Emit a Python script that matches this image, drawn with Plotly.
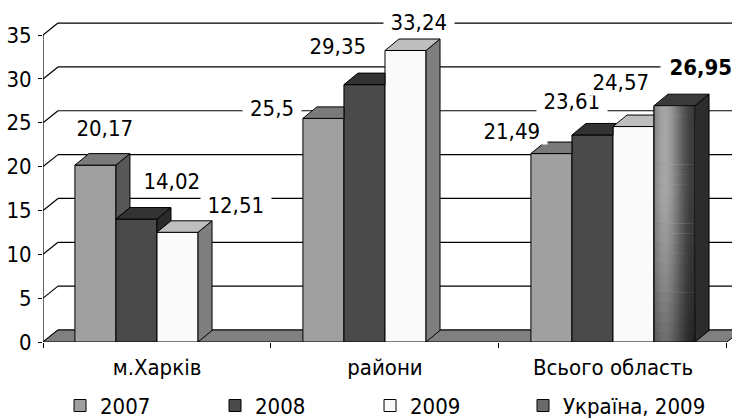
import plotly.graph_objects as go

# ---- data -------------------------------------------------------------
categories = ["м.Харків", "райони", "Всього область"]
series_names = ["2007", "2008", "2009", "Україна, 2009"]
values_2007 = [20.17, 25.5, 21.49]
values_2008 = [14.02, 29.35, 23.61]
values_2009 = [12.51, 33.24, 24.57]
values_ukraine = [None, None, 26.95]
y_ticks = [0, 5, 10, 15, 20, 25, 30, 35]

series_values = [values_2007, values_2008, values_2009, values_ukraine]

# ---- styling ------------------------------------------------------------
front_colors = ["#a0a0a0", "#4a4a4a", "#fafafa", "#6a6a6a"]
top_colors = ["#7a7a7a", "#333333", "#bebebe", "#3a3a3a"]
side_colors = ["#575757", "#2b2b2b", "#7e7e7e", "#2c2c2c"]
FLOOR_COLOR = "#808080"
FONT = "DejaVu Sans Condensed, DejaVu Sans, sans-serif"
FONT_SIZE = 22

# label placement relative to the front-top of each bar (pixels)
label_shifts = [
    [(10, 37), (36, 38), (58, 27)],
    [(-51, 10), (-26, 38), (13, 28)],
    [(-39, 22), (-20, 33), (-13, 44), (26, 38)],
]

# ---- geometry of the pseudo-3D projection --------------------------------
W, H = 732, 420
M_L, M_R, M_T, M_B = 43, 0, 0, 78
X_RANGE = [-0.5, 2.522]
Y_RANGE = [0, 39]
px_per_x = (W - M_L - M_R) / (X_RANGE[1] - X_RANGE[0])
px_per_y = (H - M_T - M_B) / (Y_RANGE[1] - Y_RANGE[0])

BAR_DX = 14 / px_per_x      # bar depth, horizontal part
BAR_DY = 11.5 / px_per_y    # bar depth, vertical part
WALL_DX = 15 / px_per_x     # wall depth
WALL_DY = 12 / px_per_y

BARGAP = 0.28
n_series = len(series_values)
slot = (1 - BARGAP) / n_series
x_pos = list(range(len(categories)))

fig = go.Figure()

# front faces
for k, (name, vals) in enumerate(zip(series_names, series_values)):
    fig.add_trace(go.Bar(
        x=x_pos, y=vals, name=name,
        legend="legend2" if k == 3 else "legend",
        marker=dict(color=front_colors[k], line=dict(color="black", width=1)),
        hoverinfo="skip",
    ))

# side and top faces, trimmed where the neighbouring bar hides them
for g in range(len(categories)):
    for k in range(n_series):
        v = series_values[k][g]
        if v is None:
            continue
        x1 = g - (1 - BARGAP) / 2 + k * slot
        x2 = x1 + slot
        nxt = series_values[k + 1][g] if k + 1 < n_series else None

        # side face
        if nxt is None or nxt < v:
            b = 0 if nxt is None else nxt
            fig.add_trace(go.Scatter(
                x=[x2, x2, x2 + BAR_DX, x2 + BAR_DX, x2],
                y=[b, v, v + BAR_DY, b + BAR_DY, b],
                mode="lines", fill="toself", fillcolor=side_colors[k],
                line=dict(color="black", width=1),
                showlegend=False, hoverinfo="skip",
            ))

        # top face
        t = v if nxt is None else min(max(nxt, v), v + BAR_DY)
        xt = x2 + BAR_DX * (v + BAR_DY - t) / BAR_DY
        fig.add_trace(go.Scatter(
            x=[x1, x2, x2, xt, x1 + BAR_DX, x1],
            y=[v, v, t, v + BAR_DY, v + BAR_DY, v],
            mode="lines", fill="toself", fillcolor=top_colors[k],
            line=dict(color="black", width=1),
            showlegend=False, hoverinfo="skip",
        ))

shapes = []

# back wall grid with the left-wall diagonals
for v in y_ticks:
    shapes.append(dict(type="line", xref="x", yref="y", layer="below",
                       x0=-0.5, y0=v, x1=-0.5 + WALL_DX, y1=v + WALL_DY,
                       line=dict(color="black", width=1.2)))
    shapes.append(dict(type="line", xref="x", yref="y", layer="below",
                       x0=-0.5 + WALL_DX, y0=v + WALL_DY, x1=2.7, y1=v + WALL_DY,
                       line=dict(color="black", width=1.2)))

# floor
fx0, fx1 = -0.5, 2.5
shapes.append(dict(
    type="path", xref="x", yref="y", layer="below",
    path=(f"M{fx0},0 L{fx1},0 L{fx1 + WALL_DX},{WALL_DY} "
          f"L{fx0 + WALL_DX},{WALL_DY} Z"),
    fillcolor=FLOOR_COLOR, line=dict(color="black", width=1)))

# value axis line
shapes.append(dict(type="line", xref="x", yref="y", layer="above",
                   x0=-0.5, y0=0, x1=-0.5, y1=y_ticks[-1],
                   line=dict(color="black", width=1.2)))

# shaded front of the national bar: overlapping cells, so no seams show
uk_val = values_ukraine[2]
ux1 = 2 - (1 - BARGAP) / 2 + 3 * slot
ux2 = ux1 + slot
col_levels = [134, 142, 150, 157, 162, 165, 166, 164, 160, 154, 147, 139, 130,
              121, 112, 103, 94, 86, 78, 71, 66, 62, 60, 58]
n_r = 24
row_factors = [1.0 if r < 8 else 1.0 - 0.33 * ((r - 8) / (n_r - 9)) ** 1.3
               for r in range(n_r)]
n_c = len(col_levels)
for ri, f in enumerate(row_factors):
    for ci, lvl in enumerate(col_levels):
        c = int(lvl * f)
        shapes.append(dict(
            type="rect", xref="x", yref="y", layer="above",
            x0=ux1 + slot * ci / n_c, x1=ux2,
            y0=0, y1=uk_val * (n_r - ri) / n_r,
            fillcolor=f"rgb({c},{c},{c})", line=dict(width=0)))
shapes.append(dict(type="rect", xref="x", yref="y", layer="above",
                   x0=ux1, x1=ux2, y0=0, y1=uk_val,
                   line=dict(color="black", width=1)))

# value labels
annotations = []
for g in range(len(categories)):
    for k in range(n_series):
        v = series_values[k][g]
        if v is None:
            continue
        xs, ys = label_shifts[g][k]
        text = f"{v:g}".replace(".", ",")
        box_w = len(text) * 11.5 + 12
        if k == 3:
            text = f"<b>{text}</b>"
            box_w += 10
        annotations.append(dict(
            x=g - (1 - BARGAP) / 2 + (k + 0.5) * slot, y=v,
            xref="x", yref="y", text=text, showarrow=False,
            xshift=xs, yshift=ys, bgcolor="white", borderpad=0,
            width=box_w,
            font=dict(family=FONT, size=FONT_SIZE, color="black"),
        ))

legend_common = dict(
    orientation="h", xref="container", yref="container",
    y=0.034, xanchor="left", yanchor="middle",
    itemwidth=30, traceorder="normal", bgcolor="rgba(0,0,0,0)",
    font=dict(family=FONT, size=FONT_SIZE, color="black"),
)

fig.update_layout(
    width=W, height=H,
    margin=dict(l=M_L, r=M_R, t=M_T, b=M_B, autoexpand=False),
    paper_bgcolor="white", plot_bgcolor="white",
    barmode="group", bargap=BARGAP, bargroupgap=0,
    font=dict(family=FONT, size=FONT_SIZE, color="black"),
    shapes=shapes, annotations=annotations,
    showlegend=True,
    legend=dict(x=0.082, entrywidth=110, entrywidthmode="pixels", **legend_common),
    legend2=dict(x=0.7145, **legend_common),
    xaxis=dict(
        range=X_RANGE, tickmode="array", tickvals=x_pos, ticktext=categories,
        showgrid=False, zeroline=False, showline=False, ticks="",
        ticklabelstandoff=10,
        minor=dict(tickmode="array", tickvals=[-0.5, 0.5, 1.5, 2.5],
                   ticks="outside", ticklen=5, tickcolor="black", showgrid=False),
    ),
    yaxis=dict(
        range=Y_RANGE, tickmode="array", tickvals=y_ticks,
        showgrid=False, zeroline=False, showline=False,
        ticks="outside", ticklen=4, tickcolor="black", ticklabelstandoff=2,
    ),
)

fig.write_html("out.html")
